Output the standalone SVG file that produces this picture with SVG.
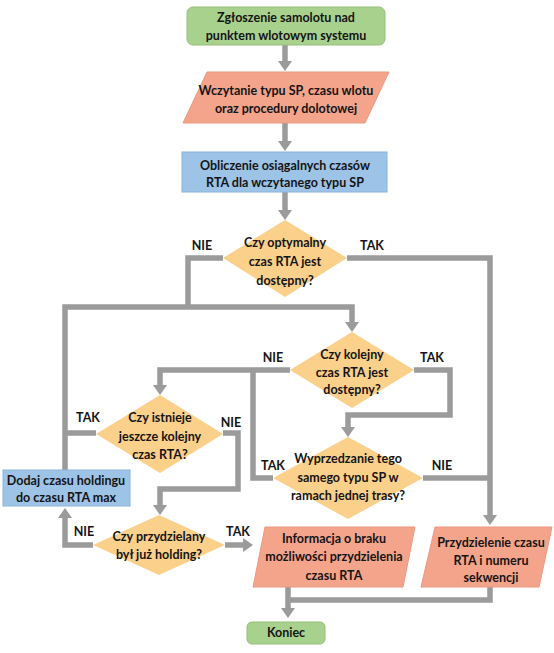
<svg xmlns="http://www.w3.org/2000/svg" width="554" height="653" viewBox="0 0 554 653">
<defs>
<marker id="ah" markerUnits="userSpaceOnUse" viewBox="0 0 10 14" markerWidth="10" markerHeight="14" refX="0" refY="7" orient="auto">
<path d="M0,0 L10,7 L0,14 z" fill="#9b9b9b"/>
</marker>
<style>
text{font-family:Lato,"Open Sans","Liberation Sans",sans-serif;font-weight:bold;font-size:12.5px;fill:#141414;text-anchor:middle}
.c{fill:none;stroke:#9b9b9b;stroke-width:5.5;stroke-linejoin:miter}
.a{marker-end:url(#ah)}
.start{fill:#a9d18e;stroke:#93bf78;stroke-width:1}
.io{fill:#f5a48c;stroke:#eb9880;stroke-width:1}
.proc{fill:#9dc3e6;stroke:#8ab3da;stroke-width:1}
.dec{fill:#fbd08b}
</style>
</defs>
<rect width="554" height="653" fill="#ffffff"/>
<g id="connectors">
<path class="c a" d="M285,45 V61"/>
<path class="c a" d="M285,123 V141"/>
<path class="c a" d="M285,192 V210"/>
<path class="c" d="M223,258 H188 V307"/>
<path class="c a" d="M65,470 V307 H352 V322"/>
<path class="c a" d="M347,258 H490 V515"/>
<path class="c a" d="M290,370 H160 V385"/>
<path class="c" d="M273,478 H253 V370"/>
<path class="c a" d="M414,370 H450 V415 H348 V427"/>
<path class="c" d="M423,478 H490"/>
<path class="c" d="M96,433 H65"/>
<path class="c a" d="M223,433 H238 V489 H160 V505"/>
<path class="c a" d="M93,545 H65 V518"/>
<path class="c a" d="M225,545 H243"/>
<path class="c" d="M490,587 V600 H288"/>
<path class="c a" d="M288,587 V608"/>
</g>
<g id="labels">
<text x="202" y="250">NIE</text>
<text x="372" y="250">TAK</text>
<text x="273" y="362">NIE</text>
<text x="432" y="362">TAK</text>
<text x="88" y="422">TAK</text>
<text x="231" y="427">NIE</text>
<text x="273" y="470">TAK</text>
<text x="442" y="470">NIE</text>
<text x="84" y="536">NIE</text>
<text x="238" y="536">TAK</text>
</g>
<g id="n1">
<rect class="start" x="187" y="7" width="198" height="38" rx="6"/>
<text x="286" y="22">Zgłoszenie samolotu nad</text>
<text x="286" y="40">punktem wlotowym systemu</text>
</g>
<g id="n2">
<polygon class="io" points="207,72 389,72 365,123 183,123"/>
<text x="286" y="95">Wczytanie typu SP, czasu wlotu</text>
<text x="286" y="113">oraz procedury dolotowej</text>
</g>
<g id="n3">
<rect class="proc" x="182" y="152" width="205" height="40"/>
<text x="285" y="170">Obliczenie osiągalnych czasów</text>
<text x="285" y="187">RTA dla wczytanego typu SP</text>
</g>
<g id="d1">
<polygon class="dec" points="285,220 347,258 285,297 223,258"/>
<text x="285" y="247">Czy optymalny</text>
<text x="285" y="266">czas RTA jest</text>
<text x="285" y="285">dostępny?</text>
</g>
<g id="d2">
<polygon class="dec" points="352,332 414,370 352,408 290,370"/>
<text x="352" y="359">Czy kolejny</text>
<text x="352" y="377">czas RTA jest</text>
<text x="352" y="394">dostępny?</text>
</g>
<g id="d3">
<polygon class="dec" points="160,395 223,434 160,473 96,434"/>
<text x="160" y="422">Czy istnieje</text>
<text x="160" y="441">jeszcze kolejny</text>
<text x="160" y="459">czas RTA?</text>
</g>
<g id="d5">
<polygon class="dec" points="348,437 423,478 348,519 273,478"/>
<text x="348" y="463">Wyprzedzanie tego</text>
<text x="348" y="482">samego typu SP w</text>
<text x="348" y="500">ramach jednej trasy?</text>
</g>
<g id="n4">
<rect class="proc" x="3" y="470" width="127" height="36"/>
<text x="66" y="485">Dodaj czasu holdingu</text>
<text x="66" y="502">do czasu RTA max</text>
</g>
<g id="d4">
<polygon class="dec" points="159,515 225,545 159,575 93,545"/>
<text x="159" y="541">Czy przydzielany</text>
<text x="159" y="559">był już holding?</text>
</g>
<g id="n5">
<polygon class="io" points="265,527 415,527 403,587 253,587"/>
<text x="334" y="543">Informacja o braku</text>
<text x="334" y="561">możliwości przydzielenia</text>
<text x="334" y="580">czasu RTA</text>
</g>
<g id="n6">
<polygon class="io" points="435,527 552,527 539,587 421,587"/>
<text x="491" y="547">Przydzielenie czasu</text>
<text x="491" y="565">RTA i numeru</text>
<text x="491" y="582">sekwencji</text>
</g>
<g id="n7">
<rect class="start" x="247" y="622" width="78" height="22" rx="5"/>
<text x="286" y="637">Koniec</text>
</g>
</svg>
